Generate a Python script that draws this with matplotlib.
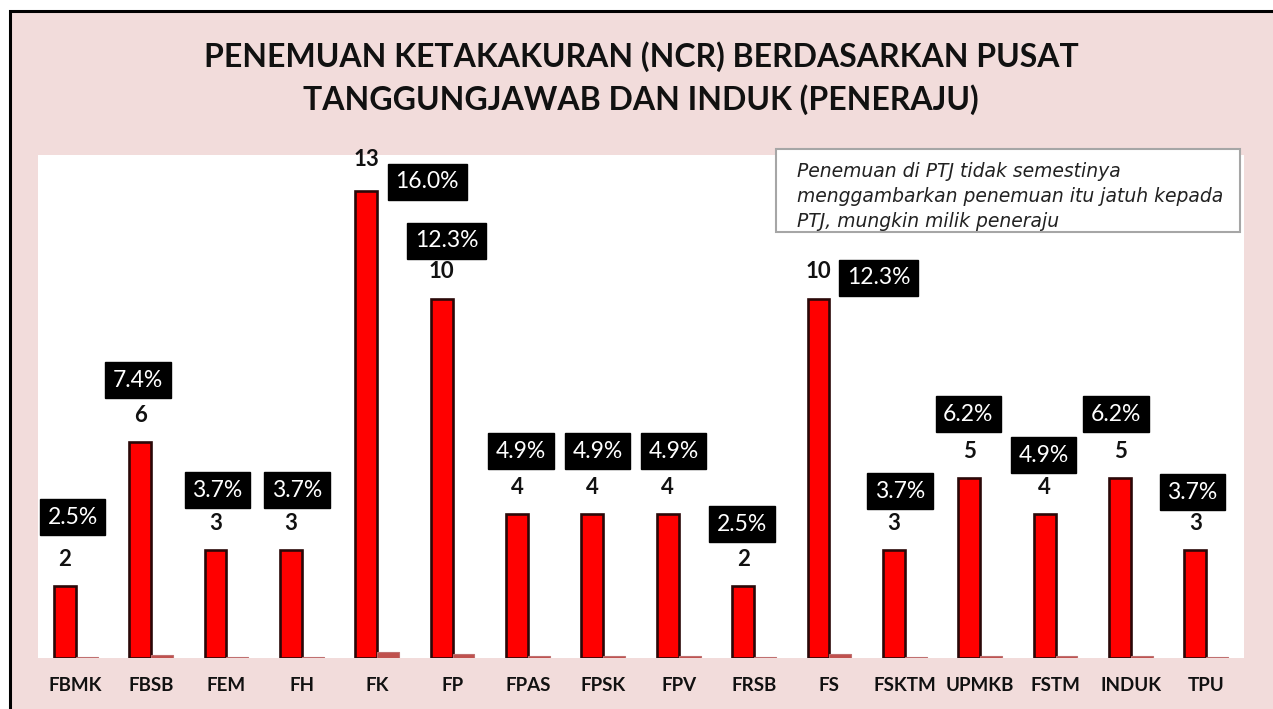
import matplotlib
matplotlib.use("Agg")
import matplotlib.pyplot as plt
from matplotlib.patches import Rectangle
import numpy as np

categories = ["FBMK", "FBSB", "FEM", "FH", "FK", "FP", "FPAS", "FPSK", "FPV",
              "FRSB", "FS", "FSKTM", "UPMKB", "FSTM", "INDUK", "TPU"]
counts = [2, 6, 3, 3, 13, 10, 4, 4, 4, 2, 10, 3, 5, 4, 5, 3]
percents = [2.5, 7.4, 3.7, 3.7, 16.0, 12.3, 4.9, 4.9, 4.9, 2.5, 12.3, 3.7, 6.2, 4.9, 6.2, 3.7]

title = "PENEMUAN KETAKAKURAN (NCR) BERDASARKAN PUSAT\nTANGGUNGJAWAB DAN INDUK (PENERAJU)"
note = ("Penemuan di PTJ tidak semestinya\n"
        "menggambarkan penemuan itu jatuh kepada\n"
        "PTJ, mungkin milik peneraju")

# label offsets (pixels) of percent boxes relative to red bar top
pct_off = [(8, 69), (-2, 62), (2, 60), (6, 60), (61, 9), (5, 58), (4, 63), (5, 63),
           (6, 63), (-1, 62), (60, 21), (6, 59), (-1, 64), (-1, 59), (-4, 64), (-3, 58)]

plt.rcParams['font.family'] = ['Lato', 'DejaVu Sans']
W, H = 1273, 709
fig = plt.figure(figsize=(W / 100, H / 100), dpi=100, facecolor='white')

pink = '#f2dcdb'
bg = Rectangle((9.5 / W, -0.05), 1.1, 1 - 10.5 / H + 0.05,
               transform=fig.transFigure, facecolor=pink,
               edgecolor='black', linewidth=2.2, zorder=-5)
fig.patches.append(bg)

ax = fig.add_axes([38 / W, 1 - 658 / H, (1244 - 38) / W, (658 - 155) / H])
ax.set_zorder(2)
ax.set_facecolor('white')
x = np.arange(len(categories))
bw = 0.29
ax.bar(x - bw / 2, counts, width=bw, color='#ff0000', edgecolor='#2a0808',
       linewidth=1.9, zorder=3)
ax.bar(x + bw / 2, [p / 100 for p in percents], width=bw, color='#c0504d',
       edgecolor='#c07070', linewidth=0.8, zorder=3)

ax.set_xlim(-0.5, len(categories) - 0.5)
ax.set_ylim(0, 14)
ax.set_yticks([])
ax.set_xticks(x)
ax.set_xticklabels(categories, fontsize=13.5, fontweight='bold', color='#111111')
ax.tick_params(axis='x', length=0, pad=14)
for s in ax.spines.values():
    s.set_visible(False)

k = 0.72
for i, (c, p) in enumerate(zip(counts, percents)):
    ax.annotate(str(c), (x[i] - bw / 2, c), xytext=(0, 27 * k if c != 13 else 31 * k),
                textcoords='offset points', ha='center', va='center',
                fontsize=16, fontweight='bold', color='#111111', zorder=5,
                annotation_clip=False)
    dx, dy = pct_off[i]
    ax.annotate(f"{p:.1f}%", (x[i] - bw / 2, c), xytext=(dx * k, dy * k),
                textcoords='offset points', ha='center', va='center',
                fontsize=16.5, color='white', zorder=5, annotation_clip=False,
                bbox=dict(boxstyle='square,pad=0.33', facecolor='black', edgecolor='black'))

fig.text(641 / W, 1 - 78 / H, title, ha='center', va='center', fontsize=23,
         fontweight='bold', color='#111111', linespacing=1.5)

note_box = Rectangle((776 / W, 1 - 232 / H), (1240 - 776) / W, (232 - 149) / H,
                     transform=fig.transFigure, facecolor='white',
                     edgecolor='#a6a6a6', linewidth=1.5)
note_box.set_zorder(4)
fig.patches.append(note_box)
fig.text(797 / W, 1 - 162 / H, note, ha='left', va='top', fontsize=13.5,
         fontstyle='italic', family='DejaVu Sans', color='#222222',
         linespacing=1.4, zorder=5)

fig.savefig('out.png', dpi=100, facecolor='white')
